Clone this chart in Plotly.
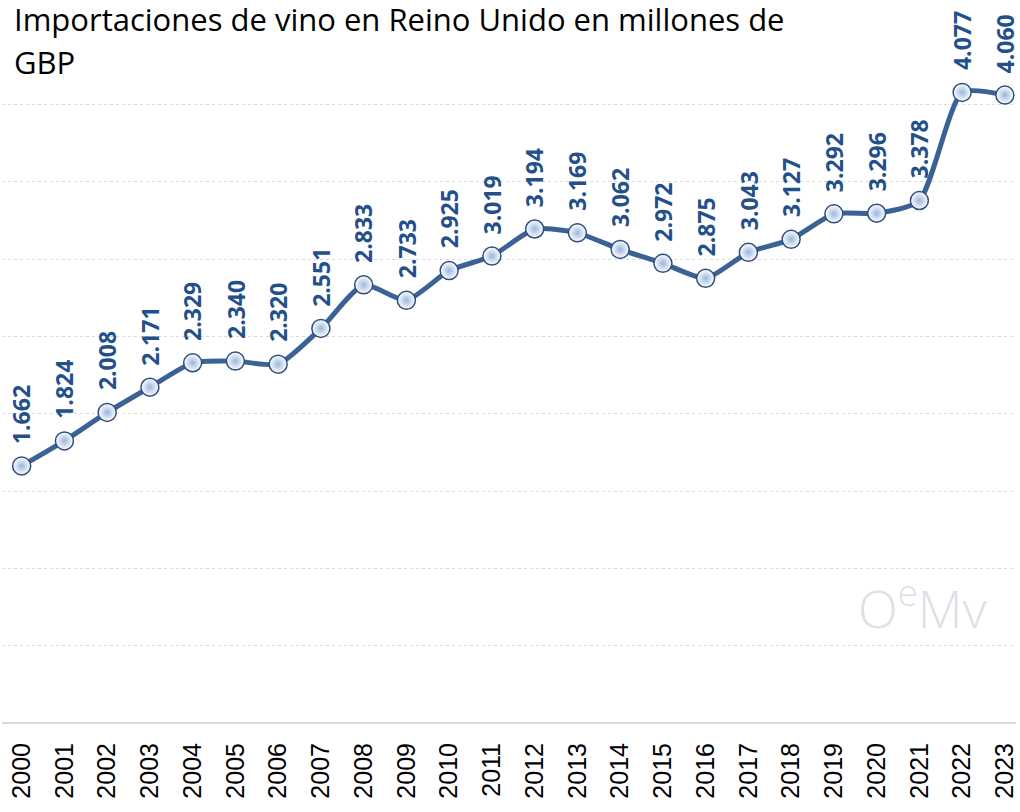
import plotly.graph_objects as go

years = ["2000", "2001", "2002", "2003", "2004", "2005", "2006", "2007", "2008", "2009",
         "2010", "2011", "2012", "2013", "2014", "2015", "2016", "2017", "2018", "2019",
         "2020", "2021", "2022", "2023"]
values = [1.662, 1.824, 2.008, 2.171, 2.329, 2.340, 2.320, 2.551, 2.833, 2.733,
          2.925, 3.019, 3.194, 3.169, 3.062, 2.972, 2.875, 3.043, 3.127, 3.292,
          3.296, 3.378, 4.077, 4.060]
labels = [f"{v:.3f}" for v in values]
title_lines = ["Importaciones de vino en Reino Unido en millones de", "GBP"]

xs = list(range(len(years)))

W, H = 1020, 812
PLOT_LEFT, PLOT_RIGHT = 2, 1018
PLOT_TOP = 27
PLOT_BOTTOM = 723
PLOT_H = PLOT_BOTTOM - PLOT_TOP
PLOT_W = PLOT_RIGHT - PLOT_LEFT


def py(pixel_y):
    return (PLOT_BOTTOM - pixel_y) / PLOT_H


def px(pixel_x):
    return (pixel_x - PLOT_LEFT) / PLOT_W


fig = go.Figure()
fig.add_trace(go.Scatter(
    x=xs, y=values, mode="lines+markers",
    line=dict(color="#3A6295", width=5, shape="spline", smoothing=0.6),
    marker=dict(size=18, color="#FFFFFF",
                gradient=dict(type="radial", color="#9AB6DE"),
                line=dict(color="#2F4F7C", width=1.5)),
    hoverinfo="skip", showlegend=False,
))

annotations = []
for x, v, t in zip(xs, values, labels):
    annotations.append(dict(
        x=x, y=v, xref="x", yref="y", text=t, textangle=-90,
        showarrow=False, xanchor="center", yanchor="bottom", yshift=20,
        font=dict(family="Open Sans", size=23, color="#23508A", weight="bold"),
    ))

annotations.append(dict(
    x=px(12), y=py(-4), xref="paper", yref="paper", text=title_lines[0],
    showarrow=False, xanchor="left", yanchor="top",
    font=dict(family="Open Sans", size=31, color="#000000"),
))
annotations.append(dict(
    x=px(12), y=py(39), xref="paper", yref="paper", text=title_lines[1],
    showarrow=False, xanchor="left", yanchor="top",
    font=dict(family="Open Sans", size=31, color="#000000"),
))
annotations.append(dict(
    x=px(924), y=py(605), xref="paper", yref="paper", text="O<sup>e</sup>Mv",
    showarrow=False, xanchor="center", yanchor="middle",
    font=dict(family="Open Sans", size=52, color="#DDE0E6", weight=300),
))

fig.update_layout(
    width=W, height=H,
    margin=dict(l=PLOT_LEFT, r=W - PLOT_RIGHT, t=PLOT_TOP, b=H - PLOT_BOTTOM),
    paper_bgcolor="#FFFFFF", plot_bgcolor="#FFFFFF",
    annotations=annotations,
    xaxis=dict(
        range=[-0.46, 23.26], tickmode="array", tickvals=xs, ticktext=years,
        tickangle=-90, showgrid=False, zeroline=False,
        showline=False, ticks="", ticklabelstandoff=14,
        tickfont=dict(family="Liberation Sans", size=25, color="#000000"),
    ),
    yaxis=dict(
        range=[0, 4.5], dtick=0.5, showticklabels=False,
        showgrid=True, gridcolor="#DADADA", griddash="dot", gridwidth=1,
        zeroline=True, zerolinecolor="#D9D9D9", zerolinewidth=2,
    ),
)

fig.write_html(
    "out.html",
    config={"displayModeBar": False, "staticPlot": True},
    post_script="document.body.style.margin='0px';document.body.style.overflow='hidden';",
)
